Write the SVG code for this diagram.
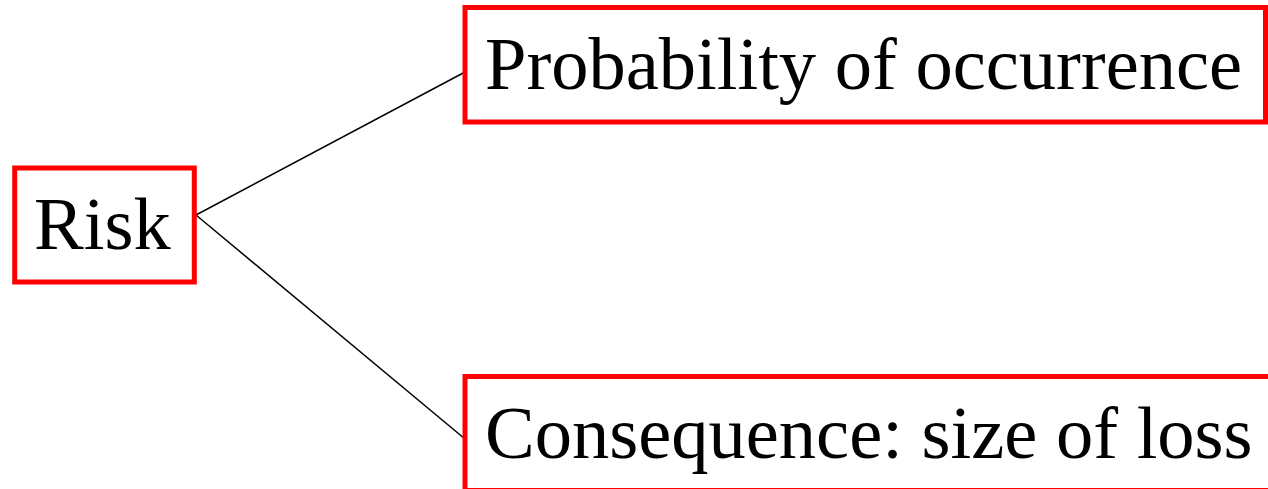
<svg xmlns="http://www.w3.org/2000/svg" width="1268" height="489" viewBox="0 0 1268 489">
<style>
.box{fill:#fff;stroke:#ff0000;stroke-width:5}
.lbl{font-family:"Liberation Serif","Times New Roman",serif;font-size:74.5px;fill:#000}
.conn{stroke:#000;stroke-width:1.5;fill:none}
</style>
<rect width="1268" height="489" fill="#fff"/>
<g id="connectors">
<line class="conn" x1="196" y1="215" x2="465" y2="72"/>
<line class="conn" x1="196" y1="215" x2="465" y2="439"/>
</g>
<g id="risk">
<rect class="box" x="14.7" y="168" width="179.6" height="114"/>
<text class="lbl" x="34" y="249">Risk</text>
</g>
<g id="probability">
<rect class="box" x="465" y="7.5" width="800.5" height="114.5"/>
<text class="lbl" x="485" y="89">Probability of occurrence</text>
</g>
<g id="consequence">
<rect class="box" x="465" y="376.5" width="900" height="114"/>
<text class="lbl" x="485" y="458">Consequence: size of loss</text>
</g>
</svg>
